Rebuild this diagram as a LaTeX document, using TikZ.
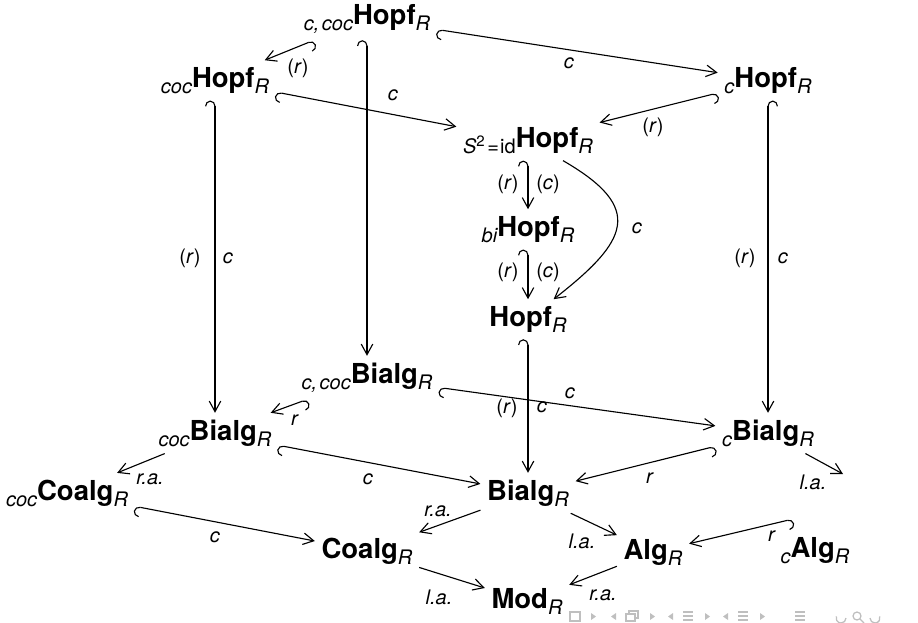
\documentclass[tikz,border=0pt]{standalone}
\usepackage{fontspec}
\setmainfont{TeX Gyre Heros}
\usetikzlibrary{arrows.meta}
\newcommand{\lsub}[1]{\raisebox{-2.6pt}{\fontsize{8}{9}\selectfont\itshape #1}}
\newcommand{\rsub}{\lsub{R}}
\tikzset{
  obj/.style={anchor=base, inner sep=2.5pt, font=\fontsize{11}{13}\selectfont},
  lab/.style={inner sep=0pt, font=\fontsize{8}{9}\selectfont},
  tip/.tip={Straight Barb[length=4.2pt,width=4.6pt]},
  ar/.style={-tip, line width=0.45pt},
  hr/.style={{Hooks[left,length=2.3pt,width=8pt]}-tip, line width=0.45pt},
  hl/.style={{Hooks[right,length=2.3pt,width=8pt]}-tip, line width=0.45pt},
  nav/.style={draw=gray!50, line width=0.5pt},
  navf/.style={fill=gray!50},
}
\begin{document}
\begin{tikzpicture}[x=0.4pt,y=-0.4pt]
\useasboundingbox (0,0) rectangle (918,622);
% objects
\node[obj] (cch) at (367,24) {\lsub{c,\kern1pt coc}\textbf{Hopf}\rsub};
\node[obj] (coh) at (215,87) {\lsub{coc}\textbf{Hopf}\rsub};
\node[obj] (ch) at (768,87) {\lsub{c}\textbf{Hopf}\rsub};
\node[obj] (sh) at (528,147) {\lsub{S\textsuperscript{\upshape 2}\upshape\kern0.5pt=\kern0.5pt id}\textbf{Hopf}\rsub};
\node[obj] (bh) at (528,236) {\lsub{bi}\textbf{Hopf}\rsub};
\node[obj] (h) at (528,326) {\textbf{Hopf}\rsub};
\node[obj] (ccb) at (367,383) {\lsub{c,\kern1pt coc}\textbf{Bialg}\rsub};
\node[obj] (cob) at (215,440) {\lsub{coc}\textbf{Bialg}\rsub};
\node[obj] (cb) at (768,440) {\lsub{c}\textbf{Bialg}\rsub};
\node[obj] (b) at (528,500) {\textbf{Bialg}\rsub};
\node[obj] (coc) at (67,500) {\lsub{coc}\textbf{Coalg}\rsub};
\node[obj] (ca) at (815,557) {\lsub{c}\textbf{Alg}\rsub};
\node[obj] (co) at (367,558) {\textbf{Coalg}\rsub};
\node[obj] (a) at (653,559) {\textbf{Alg}\rsub};
\node[obj] (m) at (527,608) {\textbf{Mod}\rsub};
\coordinate (caIn) at (843,474);
\coordinate (caOut) at (793,519);
% arrows
\draw[hr] (cch) -- (ch);
\draw[hl] (cch) -- (coh);
\draw[hr] (cch) -- (ccb);
\draw[hr] (coh) -- (sh);
\draw[hr] (coh) -- (cob);
\draw[hl] (ch) -- (sh);
\draw[hl] (ch) -- (cb);
\draw[hr] (sh) -- (bh);
\draw[ar] (sh) to[out=-30,in=38,looseness=1.75] (h);
\draw[hr] (bh) -- (h);
\draw[hr] (h) -- (b);
\draw[hr] (ccb) -- (cb);
\draw[hl] (ccb) -- (cob);
\draw[hr] (cob) -- (b);
\draw[ar] (cob) -- (coc);
\draw[hl] (cb) -- (b);
\draw[ar] (cb) -- (caIn);
\draw[hr] (coc) -- (co);
\draw[ar] (b) -- (co);
\draw[ar] (b) -- (a);
\draw[hl] (caOut) -- (a);
\draw[ar] (co) -- (m);
\draw[ar] (a) -- (m);
% labels
\node[lab] at (569,63) {\textit{c}};
\node[lab] at (298,68) {(\textit{r})};
\node[lab] at (393,95) {\textit{c}};
\node[lab] at (190,258) {(\textit{r})};
\node[lab] at (228,258) {\textit{c}};
\node[lab] at (653,127) {(\textit{r})};
\node[lab] at (745,258) {(\textit{r})};
\node[lab] at (783,258) {\textit{c}};
\node[lab] at (508,184) {(\textit{r})};
\node[lab] at (548,184) {(\textit{c})};
\node[lab] at (637,228) {\textit{c}};
\node[lab] at (508,272) {(\textit{r})};
\node[lab] at (548,272) {(\textit{c})};
\node[lab] at (507,408) {(\textit{r})};
\node[lab] at (542,407) {\textit{c}};
\node[lab] at (570,393) {\textit{c}};
\node[lab] at (295,420) {\textit{r}};
\node[lab] at (368,479) {\textit{c}};
\node[lab] at (150,479) {\textit{r.a.}};
\node[lab] at (650,478) {\textit{r}};
\node[lab] at (813,482) {\textit{l.a.}};
\node[lab] at (215,537) {\textit{c}};
\node[lab] at (438,511) {\textit{r.a.}};
\node[lab] at (582,541) {\textit{l.a.}};
\node[lab] at (772,536) {\textit{r}};
\node[lab] at (439,597) {\textit{l.a.}};
\node[lab] at (603,595) {\textit{r.a.}};
% navigation symbols
\draw[nav] (570,612) rectangle (580,621);
\fill[navf] (591,613) -- (596,616.5) -- (591,620) -- cycle;
\fill[navf] (616,613) -- (611,616.5) -- (616,620) -- cycle;
\draw[nav] (626,614) rectangle (635,621);
\draw[nav] (629,614) -- (629,611) -- (638,611) -- (638,618) -- (635,618);
\fill[navf] (650,613) -- (655,616.5) -- (650,620) -- cycle;
\fill[navf] (673,613) -- (668,616.5) -- (673,620) -- cycle;
\draw[nav] (683,612) -- (693,612) (683,616) -- (693,616) (683,620) -- (693,620);
\fill[navf] (705,613) -- (710,616.5) -- (705,620) -- cycle;
\fill[navf] (728,613) -- (723,616.5) -- (728,620) -- cycle;
\draw[nav] (738,612) -- (748,612) (738,616) -- (748,616) (738,620) -- (748,620);
\fill[navf] (760,613) -- (765,616.5) -- (760,620) -- cycle;
\draw[nav] (795,612) -- (805,612) (795,616) -- (805,616) (795,620) -- (805,620);
\draw[nav] (846,618) arc (0:200:5);
\draw[nav] (857,616) circle (4);
\draw[nav] (860,619) -- (864,623);
\draw[nav] (870,618) arc (180:-20:5);
\end{tikzpicture}
\end{document}
